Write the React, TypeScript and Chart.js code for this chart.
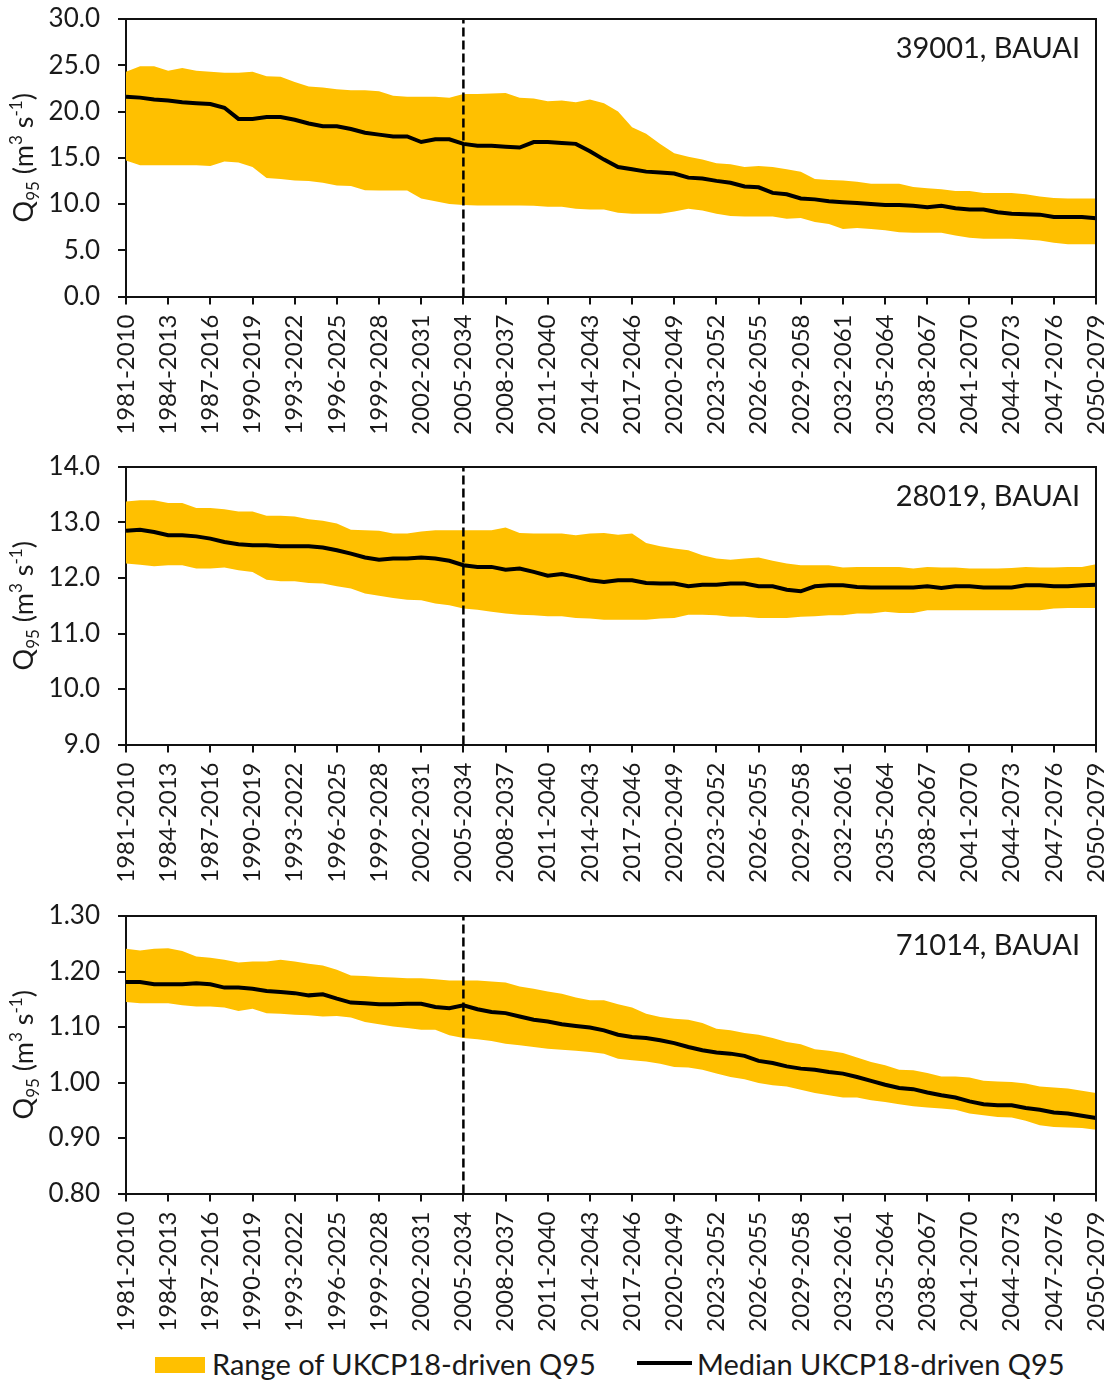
import React, { useEffect, useRef } from 'react';
import { Chart, registerables } from 'chart.js';

Chart.register(...registerables);

// ---------- data ----------
const CATEGORIES = [
  '1981-2010', '1982-2011', '1983-2012', '1984-2013', '1985-2014', '1986-2015', '1987-2016', '1988-2017', '1989-2018', '1990-2019',
  '1991-2020', '1992-2021', '1993-2022', '1994-2023', '1995-2024', '1996-2025', '1997-2026', '1998-2027', '1999-2028', '2000-2029',
  '2001-2030', '2002-2031', '2003-2032', '2004-2033', '2005-2034', '2006-2035', '2007-2036', '2008-2037', '2009-2038', '2010-2039',
  '2011-2040', '2012-2041', '2013-2042', '2014-2043', '2015-2044', '2016-2045', '2017-2046', '2018-2047', '2019-2048', '2020-2049',
  '2021-2050', '2022-2051', '2023-2052', '2024-2053', '2025-2054', '2026-2055', '2027-2056', '2028-2057', '2029-2058', '2030-2059',
  '2031-2060', '2032-2061', '2033-2062', '2034-2063', '2035-2064', '2036-2065', '2037-2066', '2038-2067', '2039-2068', '2040-2069',
  '2041-2070', '2042-2071', '2043-2072', '2044-2073', '2045-2074', '2046-2075', '2047-2076', '2048-2077', '2049-2078', '2050-2079',
];
const DASHED_PERIOD = '2005-2034';

const RANGE_LABEL = 'Range of UKCP18-driven Q95';
const MEDIAN_LABEL = 'Median UKCP18-driven Q95';

// Panel 1: 39001, BAUAI
const P1_STATION = '39001, BAUAI';
const P1_Y_TICKS = [0, 30, 5, 1]; // min, max, step, decimals
const P1_MEDIAN = [
  21.6, 21.5, 21.3, 21.2, 21.0, 20.9, 20.8, 20.4, 19.2, 19.2,
  19.4, 19.4, 19.1, 18.7, 18.4, 18.4, 18.1, 17.7, 17.5, 17.3,
  17.3, 16.7, 17.0, 17.0, 16.5, 16.3, 16.3, 16.2, 16.1, 16.7,
  16.7, 16.6, 16.5, 15.7, 14.8, 14.0, 13.75, 13.5, 13.4, 13.3,
  12.85, 12.75, 12.5, 12.3, 11.9, 11.8, 11.2, 11.05, 10.6, 10.5,
  10.3, 10.2, 10.1, 10.0, 9.9, 9.9, 9.8, 9.65, 9.8, 9.55,
  9.4, 9.4, 9.1, 8.95, 8.9, 8.85, 8.6, 8.6, 8.6, 8.45,
];
const P1_UPPER = [
  24.3, 24.9, 24.9, 24.4, 24.7, 24.4, 24.3, 24.2, 24.2, 24.3,
  23.8, 23.75, 23.2, 22.7, 22.6, 22.4, 22.3, 22.3, 22.2, 21.7,
  21.6, 21.6, 21.6, 21.5, 21.9, 21.9, 21.95, 22.0, 21.5, 21.4,
  21.1, 21.2, 21.0, 21.3, 20.9, 20.0, 18.3, 17.6, 16.5, 15.5,
  15.1, 14.8, 14.4, 14.3, 14.0, 14.1, 14.0, 13.75, 13.5, 12.7,
  12.6, 12.55, 12.4, 12.2, 12.2, 12.2, 11.85, 11.7, 11.6, 11.4,
  11.4, 11.2, 11.2, 11.2, 11.05, 10.8, 10.65, 10.6, 10.6, 10.6,
];
const P1_LOWER = [
  14.7, 14.2, 14.2, 14.2, 14.2, 14.2, 14.1, 14.6, 14.5, 14.0,
  12.8, 12.7, 12.55, 12.5, 12.3, 12.0, 11.95, 11.5, 11.45, 11.45,
  11.45, 10.6, 10.3, 10.0, 9.9, 9.85, 9.85, 9.85, 9.85, 9.8,
  9.7, 9.7, 9.5, 9.4, 9.4, 9.05, 8.95, 8.95, 8.95, 9.2,
  9.5, 9.3, 8.95, 8.7, 8.65, 8.65, 8.65, 8.4, 8.5, 8.05,
  7.85, 7.3, 7.4, 7.3, 7.15, 6.95, 6.9, 6.9, 6.9, 6.6,
  6.35, 6.25, 6.25, 6.25, 6.15, 6.05, 5.8, 5.65, 5.65, 5.65,
];

// Panel 2: 28019, BAUAI
const P2_STATION = '28019, BAUAI';
const P2_Y_TICKS = [9, 14, 1, 1];
const P2_MEDIAN = [
  12.85, 12.87, 12.83, 12.77, 12.77, 12.75, 12.71, 12.65, 12.61, 12.59,
  12.59, 12.57, 12.57, 12.57, 12.55, 12.50, 12.44, 12.37, 12.33, 12.35,
  12.35, 12.37, 12.35, 12.31, 12.23, 12.20, 12.20, 12.15, 12.17, 12.11,
  12.04, 12.07, 12.02, 11.96, 11.93, 11.96, 11.96, 11.91, 11.90, 11.90,
  11.85, 11.88, 11.88, 11.90, 11.90, 11.85, 11.85, 11.79, 11.76, 11.85,
  11.87, 11.87, 11.84, 11.83, 11.83, 11.83, 11.83, 11.85, 11.82, 11.85,
  11.85, 11.83, 11.83, 11.83, 11.87, 11.87, 11.85, 11.85, 11.87, 11.88,
];
const P2_UPPER = [
  13.38, 13.40, 13.40, 13.35, 13.35, 13.26, 13.26, 13.24, 13.20, 13.20,
  13.12, 13.12, 13.11, 13.06, 13.03, 12.98, 12.87, 12.86, 12.85, 12.80,
  12.80, 12.84, 12.86, 12.86, 12.86, 12.86, 12.86, 12.91, 12.81, 12.80,
  12.80, 12.80, 12.77, 12.80, 12.81, 12.78, 12.80, 12.63, 12.57, 12.53,
  12.50, 12.41, 12.35, 12.33, 12.35, 12.37, 12.31, 12.26, 12.23, 12.23,
  12.23, 12.19, 12.20, 12.20, 12.20, 12.20, 12.17, 12.20, 12.19, 12.19,
  12.17, 12.17, 12.17, 12.18, 12.20, 12.19, 12.19, 12.20, 12.20, 12.25,
];
const P2_LOWER = [
  12.26, 12.24, 12.21, 12.23, 12.23, 12.17, 12.17, 12.19, 12.14, 12.11,
  11.97, 11.94, 11.94, 11.91, 11.90, 11.85, 11.81, 11.72, 11.68, 11.64,
  11.61, 11.60, 11.54, 11.51, 11.45, 11.43, 11.39, 11.36, 11.34, 11.33,
  11.31, 11.31, 11.28, 11.27, 11.25, 11.25, 11.25, 11.25, 11.27, 11.28,
  11.34, 11.34, 11.33, 11.30, 11.30, 11.28, 11.28, 11.28, 11.30, 11.31,
  11.33, 11.33, 11.36, 11.36, 11.39, 11.37, 11.37, 11.42, 11.42, 11.42,
  11.42, 11.42, 11.42, 11.42, 11.42, 11.42, 11.45, 11.46, 11.46, 11.46,
];

// Panel 3: 71014, BAUAI
const P3_STATION = '71014, BAUAI';
const P3_Y_TICKS = [0.8, 1.3, 0.1, 2];
const P3_MEDIAN = [
  1.181, 1.181, 1.177, 1.177, 1.177, 1.179, 1.177, 1.171, 1.171, 1.169,
  1.165, 1.163, 1.161, 1.157, 1.159, 1.151, 1.144, 1.143, 1.141, 1.141,
  1.142, 1.142, 1.136, 1.134, 1.139, 1.132, 1.127, 1.125, 1.119, 1.113,
  1.110, 1.105, 1.102, 1.099, 1.094, 1.086, 1.082, 1.080, 1.076, 1.071,
  1.064, 1.058, 1.054, 1.052, 1.048, 1.039, 1.035, 1.029, 1.025, 1.023,
  1.019, 1.016, 1.010, 1.003, 0.996, 0.990, 0.988, 0.982, 0.977, 0.973,
  0.966, 0.961, 0.959, 0.959, 0.954, 0.951, 0.946, 0.944, 0.940, 0.936,
];
const P3_UPPER = [
  1.241, 1.238, 1.241, 1.242, 1.237, 1.227, 1.225, 1.221, 1.216, 1.218,
  1.218, 1.221, 1.218, 1.214, 1.211, 1.203, 1.193, 1.192, 1.190, 1.189,
  1.188, 1.188, 1.186, 1.184, 1.184, 1.184, 1.182, 1.180, 1.173, 1.169,
  1.164, 1.160, 1.153, 1.148, 1.148, 1.141, 1.135, 1.124, 1.118, 1.115,
  1.113, 1.107, 1.097, 1.094, 1.089, 1.086, 1.080, 1.073, 1.069, 1.060,
  1.057, 1.053, 1.045, 1.037, 1.031, 1.023, 1.022, 1.017, 1.011, 1.011,
  1.009, 1.003, 1.002, 1.001, 0.998, 0.993, 0.991, 0.989, 0.985, 0.981,
];
const P3_LOWER = [
  1.145, 1.143, 1.143, 1.143, 1.139, 1.137, 1.137, 1.135, 1.129, 1.133,
  1.125, 1.124, 1.122, 1.121, 1.119, 1.120, 1.117, 1.109, 1.105, 1.101,
  1.098, 1.095, 1.095, 1.085, 1.080, 1.078, 1.075, 1.070, 1.067, 1.064,
  1.061, 1.059, 1.057, 1.055, 1.052, 1.043, 1.040, 1.038, 1.034, 1.028,
  1.027, 1.023, 1.016, 1.010, 1.006, 0.999, 0.995, 0.993, 0.987, 0.981,
  0.977, 0.973, 0.973, 0.968, 0.965, 0.961, 0.957, 0.955, 0.953, 0.951,
  0.944, 0.941, 0.938, 0.937, 0.931, 0.923, 0.920, 0.919, 0.918, 0.915,
];

const PANELS = [
  { station: P1_STATION, ticks: P1_Y_TICKS, median: P1_MEDIAN, upper: P1_UPPER, lower: P1_LOWER },
  { station: P2_STATION, ticks: P2_Y_TICKS, median: P2_MEDIAN, upper: P2_UPPER, lower: P2_LOWER },
  { station: P3_STATION, ticks: P3_Y_TICKS, median: P3_MEDIAN, upper: P3_UPPER, lower: P3_LOWER },
];

// ---------- styles ----------
const GOLD = '#FFC000';
const TEXT = '#1a1a1a';
const AXIS = '#111111';
const FONT = 'Lato';
const W = 1113;
const PANEL_H = 448;
const PANEL_TOPS = [0, 448, 897];

type Panel = typeof PANELS[number];

function overlayPlugin(p: Panel) {
  return {
    id: 'overlay',
    afterDraw(chart: any) {
      const { ctx, chartArea: a } = chart;
      ctx.save();
      // top and right frame
      ctx.strokeStyle = AXIS;
      ctx.lineWidth = 2;
      ctx.beginPath();
      ctx.moveTo(a.left, a.top);
      ctx.lineTo(a.right, a.top);
      ctx.lineTo(a.right, a.bottom);
      ctx.stroke();
      // station label
      ctx.fillStyle = TEXT;
      ctx.font = `29px ${FONT}`;
      ctx.textAlign = 'right';
      ctx.textBaseline = 'middle';
      ctx.fillText(p.station, a.right - 16, a.top + 30);
      // y-axis title with sub/superscripts
      const big = 27;
      const small = 17;
      const segs = [
        { t: 'Q', s: big, dy: 0 },
        { t: '95', s: small, dy: 6 },
        { t: ' (m', s: big, dy: 0 },
        { t: '3', s: small, dy: -11 },
        { t: ' s', s: big, dy: 0 },
        { t: '-1', s: small, dy: -11 },
        { t: ')', s: big, dy: 0 },
      ];
      let total = 0;
      const widths = segs.map((sg) => {
        ctx.font = `${sg.s}px ${FONT}`;
        const w = ctx.measureText(sg.t).width;
        total += w;
        return w;
      });
      const cy = (a.top + a.bottom) / 2;
      ctx.translate(33, cy);
      ctx.rotate(-Math.PI / 2);
      ctx.textAlign = 'left';
      ctx.textBaseline = 'alphabetic';
      let x = -total / 2;
      segs.forEach((sg, i) => {
        ctx.font = `${sg.s}px ${FONT}`;
        ctx.fillText(sg.t, x, sg.dy);
        x += widths[i];
      });
      ctx.restore();
    },
  };
}

function makeConfig(p: Panel): any {
  const [min, max, step, decimals] = p.ticks;
  return {
    type: 'line',
    data: {
      labels: CATEGORIES,
      datasets: [
        {
          label: RANGE_LABEL,
          data: p.upper,
          fill: '+1',
          backgroundColor: GOLD,
          borderColor: 'rgba(0,0,0,0)',
          borderWidth: 0,
          pointRadius: 0,
          tension: 0,
          order: 3,
        },
        {
          label: 'lower',
          data: p.lower,
          fill: false,
          borderColor: 'rgba(0,0,0,0)',
          borderWidth: 0,
          pointRadius: 0,
          tension: 0,
          order: 2,
        },
        {
          label: 'reference period',
          data: [
            { x: DASHED_PERIOD, y: min },
            { x: DASHED_PERIOD, y: max },
          ],
          borderColor: '#000',
          borderWidth: 2.5,
          borderDash: [9, 4],
          pointRadius: 0,
          fill: false,
          order: 1,
        },
        {
          label: MEDIAN_LABEL,
          data: p.median,
          borderColor: '#000',
          borderWidth: 4,
          pointRadius: 0,
          fill: false,
          tension: 0,
          order: 0,
        },
      ],
    },
    options: {
      animation: false,
      responsive: false,
      events: [],
      layout: { autoPadding: false, padding: { top: 19, left: 0, right: 0, bottom: 0 } },
      plugins: {
        legend: { display: false },
        tooltip: { enabled: false },
      },
      scales: {
        x: {
          type: 'category',
          offset: false,
          grid: {
            display: true,
            drawOnChartArea: false,
            drawTicks: true,
            tickLength: 8,
            color: AXIS,
            lineWidth: 2,
          },
          border: { display: true, color: AXIS, width: 2 },
          ticks: {
            autoSkip: false,
            maxRotation: 90,
            minRotation: 90,
            padding: 10,
            color: TEXT,
            font: { family: FONT, size: 24 },
          },
          afterBuildTicks: (s: any) => {
            s.ticks = s.ticks.filter((t: any) => t.value % 3 === 0);
          },
          afterFit: (s: any) => {
            s.height = 151.5;
            s.paddingLeft = 0;
            s.paddingRight = 17;
            s.paddingTop = 0;
            s.paddingBottom = 0;
          },
        },
        y: {
          min,
          max,
          grid: {
            display: true,
            drawOnChartArea: false,
            drawTicks: true,
            tickLength: 8,
            color: AXIS,
            lineWidth: 2,
          },
          border: { display: true, color: AXIS, width: 2 },
          ticks: {
            stepSize: step,
            padding: 18,
            color: TEXT,
            font: { family: FONT, size: 26 },
            callback: (v: any) => Number(v).toFixed(decimals),
          },
          afterFit: (s: any) => {
            s.width = 126;
            s.paddingTop = 0;
            s.paddingBottom = 0;
          },
        },
      },
    },
    plugins: [overlayPlugin(p)],
  };
}

function PanelChart({ panel, top }: { panel: Panel; top: number }) {
  const ref = useRef<HTMLCanvasElement | null>(null);
  useEffect(() => {
    if (!ref.current) return;
    const chart = new Chart(ref.current, makeConfig(panel));
    return () => chart.destroy();
  }, [panel]);
  return (
    <canvas
      ref={ref}
      width={W}
      height={PANEL_H}
      style={{ position: 'absolute', left: 0, top, width: W, height: PANEL_H, display: 'block' }}
    />
  );
}

export default function App() {
  return (
    <div
      style={{
        position: 'absolute',
        left: 0,
        top: 0,
        width: W,
        height: 1381,
        overflow: 'hidden',
        background: '#fff',
      }}
    >
      {PANELS.map((p, i) => (
        <PanelChart key={p.station} panel={p} top={PANEL_TOPS[i]} />
      ))}
      <div
        style={{
          position: 'absolute',
          left: 0,
          top: 1347,
          width: W,
          height: 34,
          fontFamily: FONT,
          fontSize: 29,
          color: TEXT,
          lineHeight: '34px',
        }}
      >
        <div style={{ position: 'absolute', left: 155, top: 10, width: 50, height: 16, background: GOLD }} />
        <span style={{ position: 'absolute', left: 212, top: 0, whiteSpace: 'nowrap' }}>{RANGE_LABEL}</span>
        <div style={{ position: 'absolute', left: 637, top: 14, width: 55, height: 4, background: '#000' }} />
        <span style={{ position: 'absolute', left: 697, top: 0, whiteSpace: 'nowrap' }}>{MEDIAN_LABEL}</span>
      </div>
    </div>
  );
}
